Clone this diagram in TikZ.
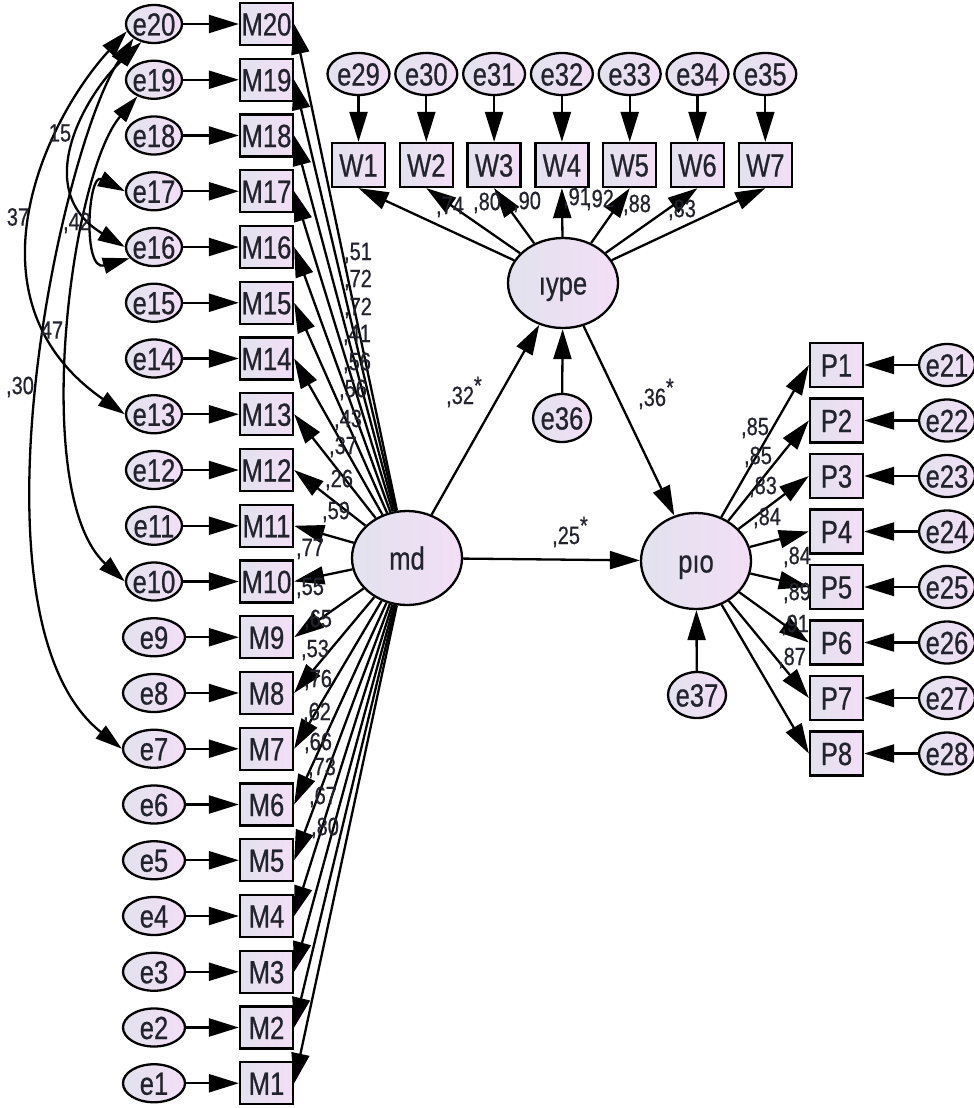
\documentclass[tikz,border=0pt]{standalone}
\usepackage{fontspec}
\setmainfont{Liberation Sans}[FakeStretch=0.8,FakeBold=0.6]
\usetikzlibrary{arrows.meta,shapes.geometric}
\definecolor{lavA}{RGB}{226,226,238}
\definecolor{lavB}{RGB}{243,222,246}
\definecolor{txt}{RGB}{35,35,45}
\newcommand{\bigf}{\fontsize{32}{34}\selectfont}
\newcommand{\smallf}{\fontsize{25}{27}\selectfont}
\begin{document}
\begin{tikzpicture}[x=1pt,y=-1pt,
  lat/.style={ellipse, draw, line width=2.3pt, left color=lavA, right color=lavB, inner xsep=-3pt, inner ysep=0pt, text height=23pt, text depth=0pt, font=\bigf, text=txt},
  obs/.style={rectangle, draw, line width=2.3pt, left color=lavA, right color=lavB, inner sep=0pt, text height=23pt, text depth=0pt, minimum width=53pt, minimum height=42pt, font=\bigf, text=txt},
  arr/.style={-{Triangle[length=30pt,width=18pt]}, line width=2.3pt},
  cov/.style={{Triangle[length=27pt,width=16pt]}-{Triangle[length=27pt,width=16pt]}, line width=2.3pt},
  coef/.style={font=\smallf, inner sep=0pt, text=txt},
]
\useasboundingbox (0,0) rectangle (974,1108);
\fill[white] (0,0) rectangle (974,1108);

% latent variables
\node[lat, minimum width=110pt, minimum height=94pt] (md) at (407,558) {md};
\node[lat, minimum width=110pt, minimum height=90pt] (iype) at (563,283) {ıype};
\node[lat, minimum width=110pt, minimum height=96pt] (pio) at (696,561) {pıo};
\node[lat, minimum width=58pt, minimum height=48pt] (e36) at (562,418) {e36};
\node[lat, minimum width=58pt, minimum height=46pt] (e37) at (697,695) {e37};

% M indicators
\foreach \k in {1,...,20} {
  \pgfmathsetmacro\yy{24+(20-\k)*55.75}
  \pgfmathsetmacro\ew{\k<10 ? 62 : 56}
  \node[obs] (M\k) at (266.5,\yy) {M\k};
  \node[lat, minimum width=\ew pt, minimum height=38pt] (e\k) at (154,\yy) {e\k};
}
% W indicators
\foreach \i in {1,...,7} {
  \pgfmathsetmacro\xx{358.5+67.8*(\i-1)}
  \pgfmathtruncatemacro\n{28+\i}
  \node[obs, minimum height=44pt] (W\i) at (\xx,165) {W\i};
  \node[lat, minimum width=62pt, minimum height=42pt] (e\n) at (\xx,74) {e\n};
}
% P indicators
\foreach \k in {1,...,8} {
  \pgfmathsetmacro\yy{365+55.5*(\k-1)}
  \pgfmathtruncatemacro\n{20+\k}
  \node[obs, minimum height=44pt] (P\k) at (836.5,\yy) {P\k};
  \node[lat, minimum width=56pt, minimum height=42pt] (e\n) at (947,\yy) {e\n};
}

% connectors
\foreach \k in {1,...,20} {
  \draw[arr] (e\k) -- (M\k);
  \draw[arr] (md) -- (M\k.east);
}
\foreach \i in {1,...,7} {
  \pgfmathtruncatemacro\n{28+\i}
  \draw[arr] (e\n) -- (W\i);
  \draw[arr] (iype) -- (W\i.south);
}
\foreach \k in {1,...,8} {
  \pgfmathtruncatemacro\n{20+\k}
  \draw[arr] (e\n) -- (P\k);
  \draw[arr] (pio) -- (P\k.west);
}
\draw[arr] (md) -- (iype);
\draw[arr] (md) -- (pio);
\draw[arr] (iype) -- (pio);
\draw[arr] (e36) -- (iype);
\draw[arr] (e37) -- (pio);

% covariances
\draw[cov] (e20.195) .. controls (45,120) and (-40,300) .. (e13.west);
\draw[cov] (e20.215) .. controls (60,150) and (-40,620) .. (e7.west);
\draw[cov] (e20.235) .. controls (85,95) and (30,190) .. (e16.west);
\draw[cov] (e19.225) .. controls (70,175) and (30,495) .. (e10.west);
\draw[cov] (e17.west) .. controls (88,172) and (82,272) .. (e16.205);

% covariance labels
\foreach \x/\y/\t [count=\c] in {60/133/{15}, 77/223/{,42}, 18/217/{37}, 52/330/{47}, 20/387/{,30}}
  \node[coef] (cv\c) at (\x,\y) {\t};

% loadings md -> M
\foreach \x/\y/\t [count=\c] in {358/253/{,51}, 358/280/{,72}, 358/308/{,72}, 357/335/{,41}, 357/363/{,56},
  353/390/{,56}, 348/420/{,43}, 343/447/{,37}, 339/480/{,26}, 336/512/{,59}, 310/549/{,77}, 310/588/{,55},
  318/620/{,65}, 315/650/{,53}, 318/680/{,76}, 317/713/{,62}, 318/743/{,66}, 322/768/{,73}, 323/797/{,67}, 325/828/{,80}}
  \node[coef] (lm\c) at (\x,\y) {\t};

% loadings iype -> W
\foreach \x/\y/\t [count=\c] in {450/207/{,74}, 487/203/{,80}, 527/202/{,90}, 577/198/{,91}, 600/200/{,92}, 637/205/{,88}, 682/210/{,83}}
  \node[coef] (lw\c) at (\x,\y) {\t};

% loadings pio -> P
\foreach \x/\y/\t [count=\c] in {755/428/{,85}, 758/457/{,85}, 763/487/{,83}, 767/518/{,84}, 797/557/{,84}, 797/593/{,89}, 795/625/{,91}, 792/658/{,87}}
  \node[coef] (lp\c) at (\x,\y) {\t};

% structural coefficients
\node[coef] (s1) at (464,392) {,32\raisebox{10pt}{*}};
\node[coef] (s2) at (570,532) {,25\raisebox{10pt}{*}};
\node[coef] (s3) at (656,394) {,36\raisebox{10pt}{*}};
\end{tikzpicture}
\end{document}
